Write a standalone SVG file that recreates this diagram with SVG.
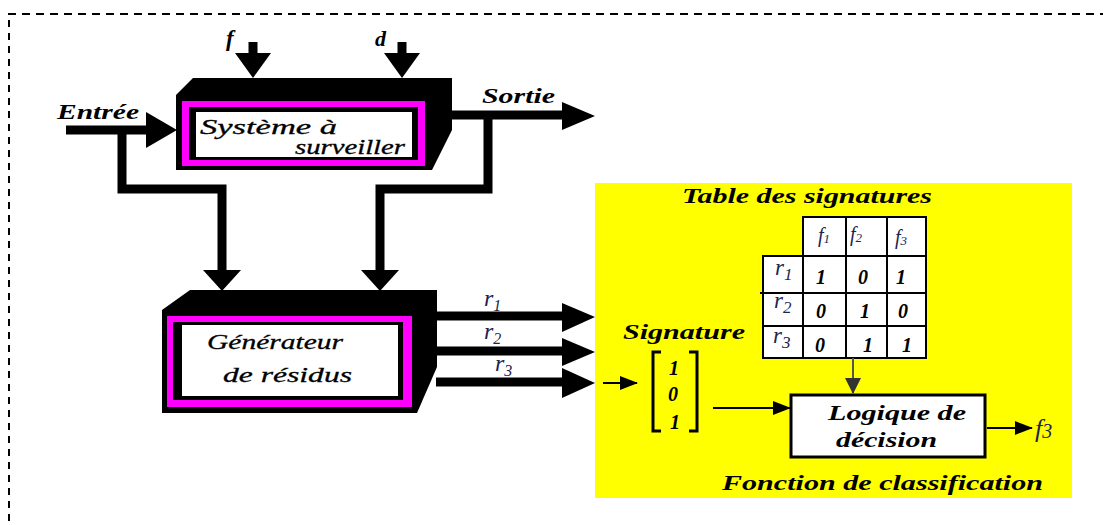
<svg xmlns="http://www.w3.org/2000/svg" width="1103" height="525" viewBox="0 0 1103 525">
<style>
.t{font-family:"Liberation Serif",serif;font-style:italic;font-weight:bold;fill:#000}
.n{font-family:"Liberation Serif",serif;font-style:italic;font-weight:normal;fill:#000;stroke:#000;stroke-width:0.3}
.m{font-family:"Liberation Serif",serif;font-style:italic;fill:#1c2450}
.v{font-family:"Liberation Serif",serif;font-style:italic;font-weight:bold;fill:#000;font-size:20px;text-anchor:middle}
.thick{stroke:#000;stroke-width:9;fill:none;stroke-linejoin:miter}
.thin{stroke:#000;stroke-width:2;fill:none}
.grid{stroke:#000;stroke-width:2;fill:none}
</style>
<defs>
<marker id="ah" markerUnits="userSpaceOnUse" markerWidth="18" markerHeight="14" refX="17" refY="7" orient="auto">
<path d="M0,0 L18,7 L0,14 Z" fill="#000"/>
</marker>
<marker id="ahg" markerUnits="userSpaceOnUse" markerWidth="16" markerHeight="16" refX="15" refY="8" orient="auto">
<path d="M0,0 L16,8 L0,16 Z" fill="#333"/>
</marker>
</defs>
<rect width="1103" height="525" fill="#fff"/>
<g id="frame">
<line x1="8" y1="14" x2="1103" y2="14" stroke="#000" stroke-width="2" stroke-dasharray="8,6"/>
<line x1="9" y1="20" x2="9" y2="525" stroke="#000" stroke-width="2" stroke-dasharray="7,6"/>
</g>
<g id="panel">
<rect x="595" y="183" width="477" height="315" fill="#ffff00"/>
<text class="t" x="682" y="203" font-size="21" textLength="250" lengthAdjust="spacingAndGlyphs">Table des signatures</text>
<text class="t" x="722" y="490" font-size="21" textLength="321" lengthAdjust="spacingAndGlyphs">Fonction de classification</text>
</g>
<g id="systeme">
<path d="M176,95 L193,78 L452,78 L452,130 L432,170 L176,170 Z" fill="#000"/>
<rect x="182" y="101" width="243" height="65" fill="#ff00ff"/>
<rect x="189" y="107" width="229" height="53" fill="#000"/>
<rect x="196" y="112" width="216" height="45" fill="#fff"/>
<text class="n" x="200" y="134" font-size="21" textLength="137" lengthAdjust="spacingAndGlyphs">Système  à</text>
<text class="n" x="295" y="154" font-size="21" textLength="110" lengthAdjust="spacingAndGlyphs">surveiller</text>
</g>
<g id="generateur">
<path d="M162,310 L190,290 L437,290 L437,367 L417,413 L162,413 Z" fill="#000"/>
<rect x="167" y="316" width="245" height="91" fill="#ff00ff"/>
<rect x="173" y="322" width="230" height="78" fill="#000"/>
<rect x="182" y="325" width="216" height="71" fill="#fff"/>
<text class="n" x="207" y="349" font-size="22" textLength="136" lengthAdjust="spacingAndGlyphs">Générateur</text>
<text class="n" x="223" y="382" font-size="22" textLength="129" lengthAdjust="spacingAndGlyphs">de  résidus</text>
</g>
<g id="table">
<rect x="803" y="217" width="123" height="39" fill="#fff"/>
<rect x="763" y="256" width="163" height="102" fill="#fff"/>
<path class="grid" d="M803,256 V217 H926 V358 H763 V256 H926 M846,217 V358 M887,217 V358 M803,256 V358 M763,293 H926 M760,293 H763 M763,326 H926"/>
<text class="m" x="818" y="242" font-size="20">f<tspan font-size="13" dy="1">1</tspan></text>
<text class="m" x="850" y="241" font-size="20">f<tspan font-size="13" dy="1">2</tspan></text>
<text class="m" x="895" y="244" font-size="20">f<tspan font-size="13" dy="1">3</tspan></text>
<text class="m" x="775" y="275" font-size="23">r<tspan font-size="17" dy="5">1</tspan></text>
<text class="m" x="774" y="308" font-size="23">r<tspan font-size="17" dy="5">2</tspan></text>
<text class="m" x="773" y="343" font-size="23">r<tspan font-size="17" dy="5">3</tspan></text>
<text class="v" x="821" y="284">1</text><text class="v" x="863" y="284">0</text><text class="v" x="901" y="284">1</text>
<text class="v" x="821" y="318">0</text><text class="v" x="865" y="318">1</text><text class="v" x="903" y="318">0</text>
<text class="v" x="820" y="352">0</text><text class="v" x="868" y="352">1</text><text class="v" x="907" y="352">1</text>
</g>
<g id="signature">
<text class="t" x="623" y="339" font-size="21" textLength="122" lengthAdjust="spacingAndGlyphs">Signature</text>
<path d="M661,352 H653 V431 H661 M689,352 H697 V431 H689" stroke="#000" stroke-width="3" fill="none"/>
<text class="v" x="674" y="375">1</text>
<text class="v" x="673" y="401">0</text>
<text class="v" x="675" y="429">1</text>
</g>
<g id="logique">
<rect x="791" y="395" width="194" height="62" fill="#fff" stroke="#000" stroke-width="3"/>
<text class="t" x="828" y="420" font-size="21" textLength="138" lengthAdjust="spacingAndGlyphs">Logique de</text>
<text class="t" x="836" y="447" font-size="21" textLength="101" lengthAdjust="spacingAndGlyphs">décision</text>
</g>
<g id="labels">
<text class="t" x="57" y="119" font-size="21" textLength="82" lengthAdjust="spacingAndGlyphs">Entrée</text>
<text class="t" x="482" y="103" font-size="21" textLength="73" lengthAdjust="spacingAndGlyphs">Sortie</text>
<text class="t" x="226" y="46" font-size="23">f</text>
<text class="t" x="375" y="46" font-size="22">d</text>
<text class="m" x="484" y="306" font-size="24">r<tspan font-size="16" dy="5">1</tspan></text>
<text class="m" x="484" y="339" font-size="24">r<tspan font-size="16" dy="5">2</tspan></text>
<text class="m" x="495" y="371" font-size="24">r<tspan font-size="16" dy="5">3</tspan></text>
<text class="m" x="1035" y="437" font-size="26">f<tspan font-size="20" dy="1">3</tspan></text>
</g>
<g id="connectors">
<path class="thick" d="M66,130 H150"/>
<path d="M146,112 L177,130 L146,148 Z" fill="#000"/>
<path class="thick" d="M122,130 V189 H222 V272"/>
<path d="M203,270 L222,291 L241,270 Z" fill="#000"/>
<path class="thick" d="M450,115 H565"/>
<path d="M562,102 L595,116 L562,130 Z" fill="#000"/>
<path class="thick" d="M488,115 V189 H380 V272"/>
<path d="M361,270 L380,291 L399,270 Z" fill="#000"/>
<path class="thick" d="M253,42 V56" stroke-width="11"/>
<path d="M235,53 L253,78 L271,53 Z" fill="#000"/>
<path class="thick" d="M402,42 V56" stroke-width="11"/>
<path d="M384,53 L402,78 L420,53 Z" fill="#000"/>
<path class="thick" d="M436,316 H565" stroke-width="8"/>
<path d="M562,303 L595,317 L562,332 Z" fill="#000"/>
<path class="thick" d="M436,351 H565" stroke-width="8"/>
<path d="M562,338 L595,352 L562,366 Z" fill="#000"/>
<path class="thick" d="M436,382 H565" stroke-width="8"/>
<path d="M562,368 L595,383 L562,398 Z" fill="#000"/>
<path class="thin" d="M603,383 H637" marker-end="url(#ah)"/>
<path class="thin" d="M713,408 H790" marker-end="url(#ah)"/>
<path d="M853,358 V393" stroke="#555" stroke-width="2" fill="none" marker-end="url(#ahg)"/>
<path class="thin" d="M987,428 H1032" marker-end="url(#ah)"/>
</g>
</svg>
